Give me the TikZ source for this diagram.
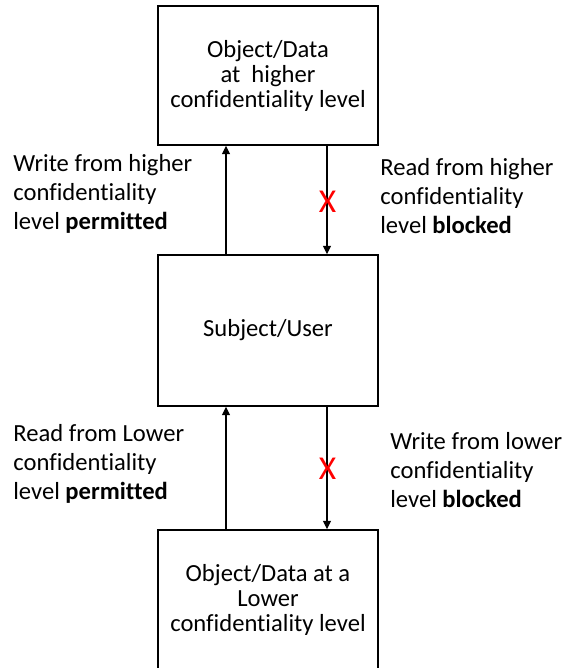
\documentclass[tikz,border=0pt]{standalone}
\usepackage{fontspec}
\setmainfont{Carlito}[Ligatures=NoCommon]
\usetikzlibrary{arrows.meta}

\begin{document}
\begin{tikzpicture}[
        box/.style={draw,line width=0.8pt,minimum width=4.4cm,align=center,
            font=\fontsize{14}{14.2}\selectfont},
        lbl/.style={align=left,anchor=west,inner sep=0pt,
            font=\fontsize{14}{16.5}\selectfont},
        flow/.style={-{Triangle[length=1.7mm,width=1.6mm]},line width=0.7pt},
        cross/.style={text=red,inner sep=0pt,font=\fontsize{19}{19}\selectfont}]
            \useasboundingbox (0,0) rectangle (11.26,13.36);
            % the three levels
            \node[box,minimum height=2.78cm] (high) at (5.36,11.85) {Object/Data\\at~ higher\\confidentiality level};
            \node[box,minimum height=3.02cm] (user) at (5.36,6.75) {Subject/User};
            \node[box,minimum height=2.8cm] (low) at (5.36,1.36) {Object/Data at a\\Lower\\confidentiality level};
            % flows between them
            \draw[flow] ([xshift=-0.84cm]user.north) -- ([xshift=-0.84cm]high.south);
            \draw[flow] ([xshift=1.18cm]high.south) -- ([xshift=1.18cm]user.north);
            \draw[flow] ([xshift=-0.84cm]low.north) -- ([xshift=-0.84cm]user.south);
            \draw[flow] ([xshift=1.18cm]user.south) -- ([xshift=1.18cm]low.north);
            \node[cross] (xhigh) at (6.55,9.32) {X};
            \node[cross] (xlow) at (6.55,3.99) {X};
            % labels
            \node[lbl] (wrhigh) at (0.26,9.48) {Write from higher\\confidentiality\\level \textbf{permitted}};
            \node[lbl] (rdhigh) at (7.6,9.44) {Read from higher\\confidentiality\\level \textbf{blocked}};
            \node[lbl] (rdlow) at (0.26,4.08) {Read from Lower\\confidentiality\\level \textbf{permitted}};
            \node[lbl] (wrlow) at (7.8,3.96) {Write from lower\\confidentiality\\level \textbf{blocked}};
        \end{tikzpicture}
\end{document}
